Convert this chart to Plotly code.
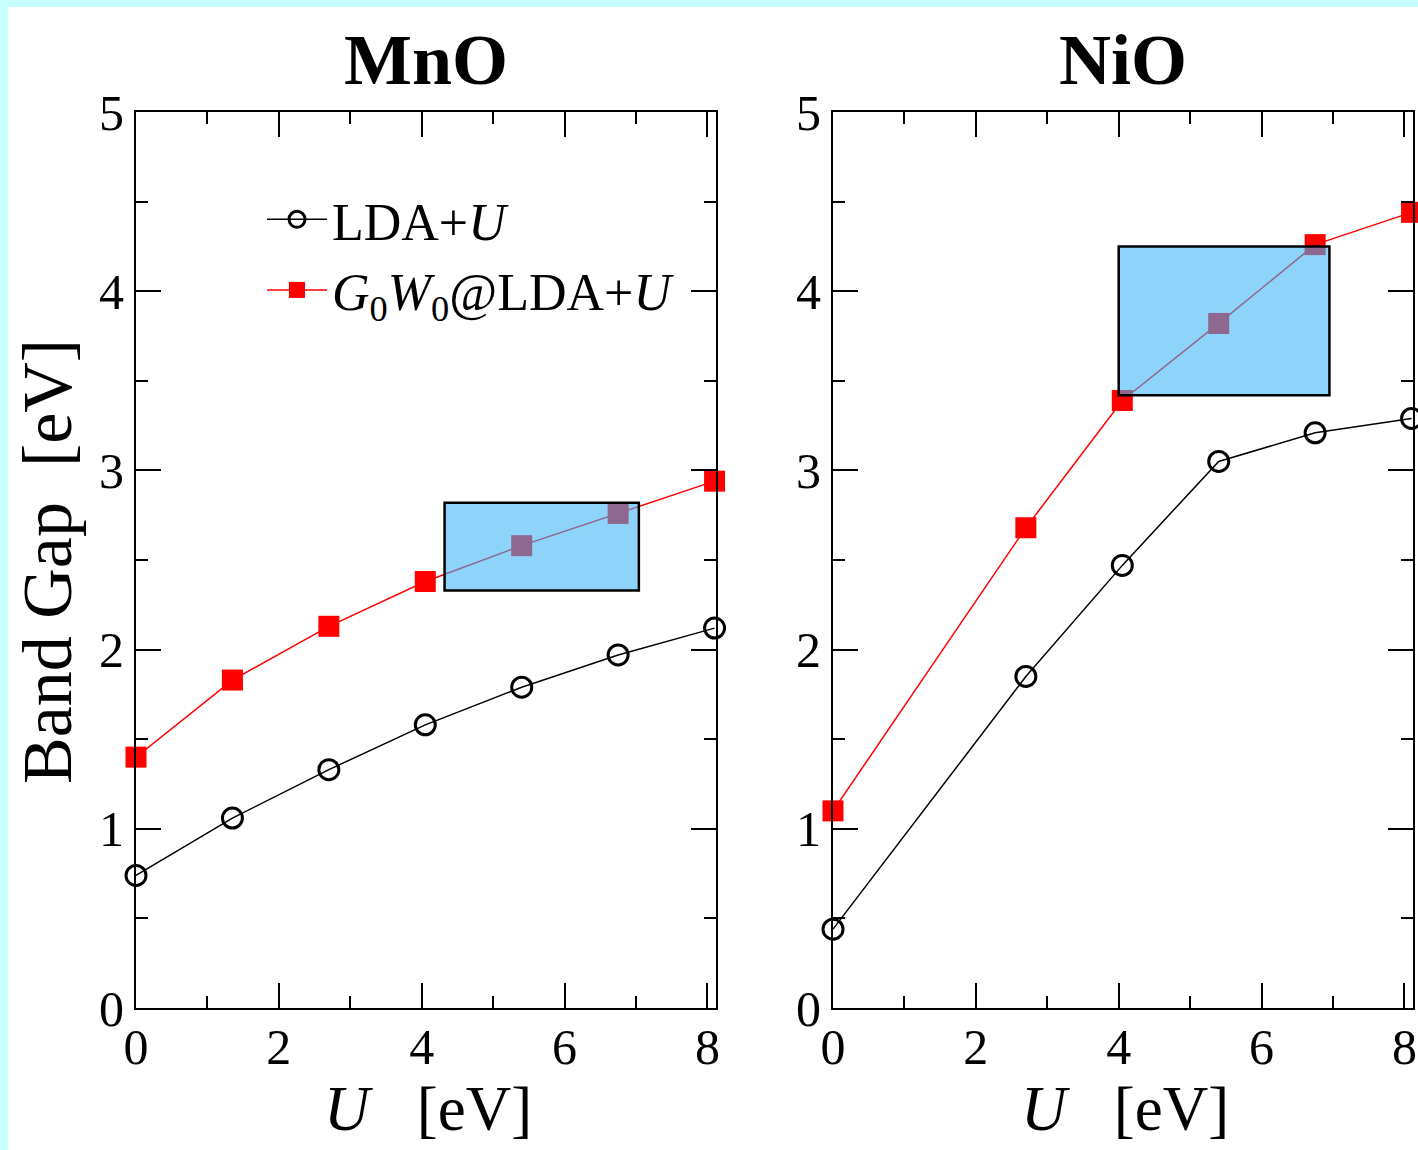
import plotly.graph_objects as go

# ---------------- data ----------------
U_mno = [0.0, 1.35, 2.7, 4.05, 5.4, 6.75, 8.1]
lda_mno = [0.74, 1.06, 1.33, 1.58, 1.79, 1.97, 2.12]
gw_mno = [1.40, 1.83, 2.13, 2.38, 2.58, 2.76, 2.94]

U_nio = [0.0, 2.7, 4.05, 5.4, 6.75, 8.1]
lda_nio = [0.44, 1.85, 2.47, 3.05, 3.21, 3.29]
gw_nio = [1.10, 2.68, 3.39, 3.82, 4.26, 4.44]

panel_titles = ["MnO", "NiO"]
series_names = ["LDA+<i>U</i>", "<i>G</i><sub>0</sub><i>W</i><sub>0</sub>@LDA+<i>U</i>"]
x_title = "<i>U</i>&nbsp;&nbsp;&nbsp;[eV]"
y_title = "Band Gap&nbsp;&nbsp;[eV]"
x_ticks = [0, 2, 4, 6, 8]
y_ticks = [0, 1, 2, 3, 4, 5]

# highlighted regions (data coords): x0, x1, y0, y1
box_mno = [4.32, 7.04, 2.33, 2.82]
box_nio = [4.0, 6.95, 3.42, 4.25]

# ---------------- figure ----------------
W, H = 1418, 1150
ML, MR, MT, MB = 136, 5, 112, 142
PW = W - ML - MR
PH = H - MT - MB

def px_x(px):
    return (px - ML) / PW

def px_y(py):
    return 1 - (py - MT) / PH

FONT = "Liberation Serif"

fig = go.Figure()

data_sets = [
    (U_mno, lda_mno, gw_mno, "x", "y", True),
    (U_nio, lda_nio, gw_nio, "x2", "y2", False),
]
for U, lda, gw, xa, ya, show in data_sets:
    fig.add_trace(go.Scatter(
        x=U, y=lda, mode="lines+markers", name=series_names[0],
        xaxis=xa, yaxis=ya, showlegend=show, cliponaxis=False,
        line=dict(color="black", width=1.5),
        marker=dict(symbol="circle-open", size=20, color="black", line=dict(width=3, color="black")),
    ))
    fig.add_trace(go.Scatter(
        x=U, y=gw, mode="lines+markers", name=series_names[1],
        xaxis=xa, yaxis=ya, showlegend=show, cliponaxis=False,
        line=dict(color="#ff0000", width=1.5),
        marker=dict(symbol="square", size=21, color="#ff0000"),
    ))

axis_common = dict(
    showline=True, linecolor="black", linewidth=2, mirror="ticks",
    ticks="inside", ticklen=25, tickwidth=2, tickcolor="black",
    showgrid=False, zeroline=False,
    tickfont=dict(family=FONT, size=50, color="black"),
)

xdom1 = [0, px_x(716)]
xdom2 = [px_x(833), 1]

for i, (xk, yk, dom) in enumerate([("xaxis", "yaxis", xdom1), ("xaxis2", "yaxis2", xdom2)]):
    fig.layout[xk] = dict(
        axis_common, domain=dom, range=[0, 8.12], tickvals=x_ticks,
        minor=dict(dtick=1, tick0=0, ticks="inside", ticklen=12, tickwidth=2, tickcolor="black"),
        anchor="y" if i == 0 else "y2", ticklabelstandoff=-6,
    )
    fig.layout[yk] = dict(
        axis_common, domain=[0, 1], range=[0, 5], tickvals=y_ticks,
        minor=dict(dtick=0.5, tick0=0, ticks="inside", ticklen=12, tickwidth=2, tickcolor="black"),
        anchor="x" if i == 0 else "x2",
    )

# highlight boxes
for box, xr, yr in [(box_mno, "x", "y"), (box_nio, "x2", "y2")]:
    fig.add_shape(type="rect", xref=xr, yref=yr, x0=box[0], x1=box[1], y0=box[2], y1=box[3],
                  fillcolor="rgba(60,180,245,0.58)", line=dict(color="black", width=2.5), layer="above")

# white page with cyan frame
fig.add_shape(type="rect", xref="paper", yref="paper",
              x0=px_x(8), x1=px_x(W + 20), y0=px_y(H + 50), y1=px_y(7),
              fillcolor="white", line=dict(width=0), layer="below")

# panel titles and x-axis titles
for title, dom in zip(panel_titles, [xdom1, xdom2]):
    xc = (dom[0] + dom[1]) / 2
    fig.add_annotation(text=f"<b>{title}</b>", xref="paper", yref="paper",
                       x=xc, y=px_y(60), showarrow=False,
                       font=dict(family=FONT, size=72, color="black"),
                       xanchor="center", yanchor="middle")
    fig.add_annotation(text=x_title, xref="paper", yref="paper",
                       x=xc + px_x(ML + 2), y=px_y(1109), showarrow=False,
                       font=dict(family=FONT, size=63, color="black"),
                       xanchor="center", yanchor="middle")

# y axis title
fig.add_annotation(text=y_title, xref="paper", yref="paper",
                   x=px_x(47), y=px_y(562), showarrow=False, textangle=-90,
                   font=dict(family=FONT, size=70, color="black"),
                   xanchor="center", yanchor="middle")

fig.update_layout(
    width=W, height=H,
    margin=dict(l=ML, r=MR, t=MT, b=MB, autoexpand=False),
    paper_bgcolor="#c8ffff", plot_bgcolor="white",
    font=dict(family=FONT, color="black"),
    legend=dict(x=px_x(262), y=px_y(179), xanchor="left", yanchor="top",
                bgcolor="rgba(0,0,0,0)", font=dict(family=FONT, size=52, color="black"),
                itemwidth=60, tracegroupgap=0),
    showlegend=True,
)

fig.write_html("out.html")
